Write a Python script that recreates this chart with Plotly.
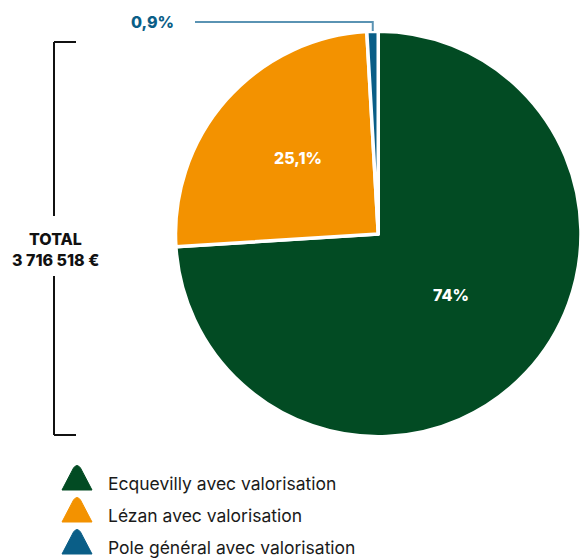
import math
import plotly.graph_objects as go

# ---- data ----
categories = ["Ecquevilly avec valorisation", "Lézan avec valorisation", "Pole général avec valorisation"]
shares = [74.0, 25.1, 0.9]
share_labels = ["74%", "25,1%", "0,9%"]
colors = ["#024b23", "#f39200", "#0a5e87"]
total_eur = 3716518

W, H = 581, 559
def px(x):
    return x / W
def py(y):
    return 1 - y / H

# pie geometry (pixels)
CX, CY, R = 378.5, 234, 203

fig = go.Figure()
fig.add_trace(go.Pie(
    labels=categories,
    values=shares,
    textinfo="none",
    sort=False,
    direction="clockwise",
    rotation=0,
    marker=dict(colors=colors, line=dict(color="white", width=3.5)),
    domain=dict(x=[px(CX - R), min(1.0, px(CX + R))], y=[py(CY + R), py(CY - R)]),
    showlegend=False,
    hovertext=share_labels,
    hoverinfo="label+text",
))

shapes = []
annotations = []

# in-slice labels
label_pos = [(451, 295), (298, 158)]
for (lx, ly), t in zip(label_pos, share_labels[:2]):
    annotations.append(dict(x=px(lx), y=py(ly), xref="paper", yref="paper", text=t,
                            showarrow=False, xanchor="center", yanchor="middle",
                            font=dict(family="Inter", size=16, color="white", weight=800)))

# small slice leader line + label
tot = sum(shares)
start = (shares[0] + shares[1]) / tot * 360
mid = math.radians(start + shares[2] / tot * 360 / 2)
ex = CX + R * math.sin(mid)
ey = CY - R * math.cos(mid)
lead_y = 22
shapes.append(dict(type="path", xref="paper", yref="paper",
                   path=f"M {px(195)},{py(lead_y)} L {px(ex)},{py(lead_y)} L {px(ex)},{py(ey)}",
                   line=dict(color="#5a93b3", width=2)))
annotations.append(dict(x=px(176), y=py(lead_y), xref="paper", yref="paper",
                        text=share_labels[2], showarrow=False, xanchor="right", yanchor="middle",
                        font=dict(family="Inter", size=16, color="#0a5e87", weight=800)))

# total bracket
bx = 54
for seg in [(42, 216), (276, 435)]:
    shapes.append(dict(type="line", xref="paper", yref="paper",
                       x0=px(bx), x1=px(bx), y0=py(seg[0]), y1=py(seg[1]),
                       line=dict(color="#111111", width=2)))
for yy in (42, 435):
    shapes.append(dict(type="line", xref="paper", yref="paper",
                       x0=px(bx), x1=px(76), y0=py(yy), y1=py(yy),
                       line=dict(color="#111111", width=2)))

total_txt = f"{total_eur:,}".replace(",", " ") + " €"
annotations.append(dict(x=px(55), y=py(239), xref="paper", yref="paper", text="TOTAL",
                        showarrow=False, xanchor="center", yanchor="middle",
                        font=dict(family="Inter", size=16, color="#111111", weight=800)))
annotations.append(dict(x=px(55), y=py(260), xref="paper", yref="paper", text=total_txt,
                        showarrow=False, xanchor="center", yanchor="middle",
                        font=dict(family="Inter", size=16, color="#111111", weight=800)))

# custom legend with rounded triangles
for i, (cat, col) in enumerate(zip(categories, colors)):
    yc = 483 + i * 32
    top, bot = yc - 19, yc + 7
    path = (f"M {px(62)},{py(bot)} L {px(73.5)},{py(top + 4)} "
            f"Q {px(77)},{py(top - 1)} {px(80.5)},{py(top + 4)} L {px(92)},{py(bot)} Z")
    shapes.append(dict(type="path", xref="paper", yref="paper", path=path,
                       fillcolor=col, line=dict(color=col, width=1)))
    annotations.append(dict(x=px(106), y=py(yc), xref="paper", yref="paper", text=cat,
                            showarrow=False, xanchor="left", yanchor="middle",
                            font=dict(family="Inter", size=17.5, color="#1a1a1a")))

fig.update_layout(
    width=W, height=H,
    margin=dict(l=0, r=0, t=0, b=0),
    paper_bgcolor="white", plot_bgcolor="white",
    shapes=shapes, annotations=annotations,
)

fig.write_html("out.html")
